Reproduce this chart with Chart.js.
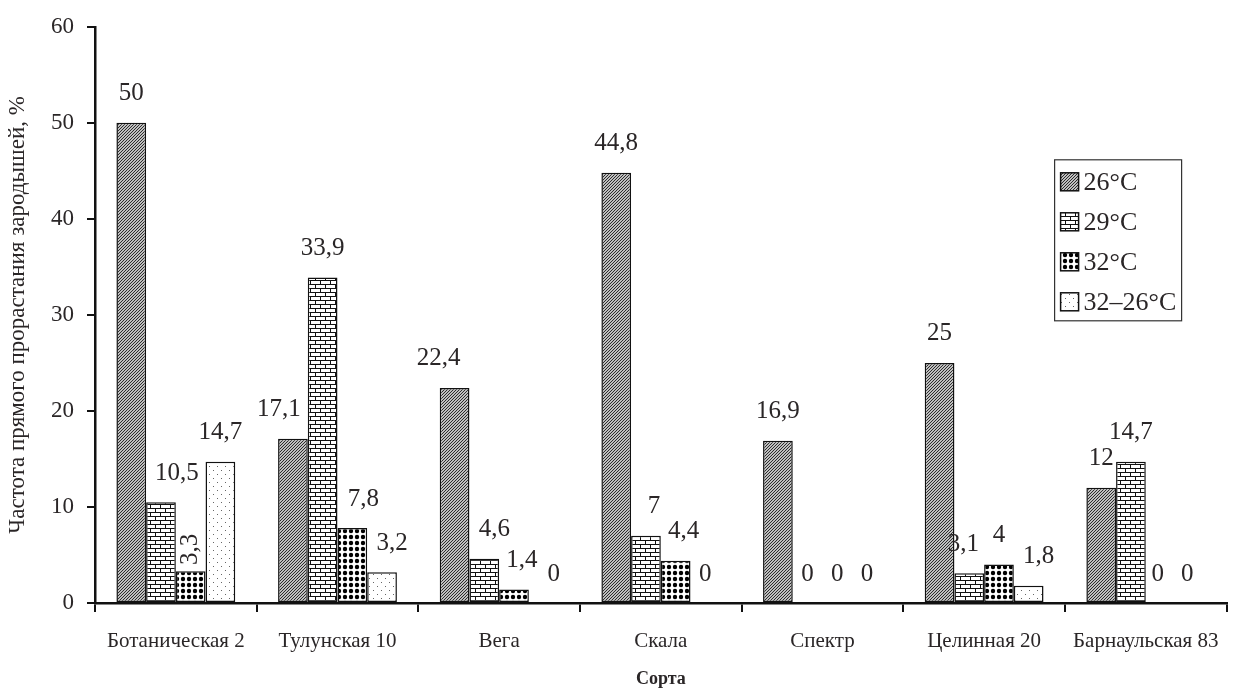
<!DOCTYPE html>
<html>
<head>
<meta charset="utf-8">
<script src="https://cdn.jsdelivr.net/npm/chart.js@4.4.0/dist/chart.umd.min.js"></script>
<style>
  body { margin: 0; background: #fff; }
  #wrap { width: 1236px; height: 693px; }
</style>
</head>
<body>
<div id="wrap"><canvas id="chart" width="1236" height="693"></canvas></div>
<script>
const categories = ["Ботаническая 2", "Тулунская 10", "Вега", "Скала", "Спектр", "Целинная 20", "Барнаульская 83"]
const seriesNames = ["26°C", "29°C", "32°C", "32–26°C"]
const t26 = [50, 17.1, 22.4, 44.8, 16.9, 25, 12]
const t29 = [10.5, 33.9, 4.6, 7, 0, 3.1, 14.7]
const t32 = [3.3, 7.8, 1.4, 4.4, 0, 4, 0]
const t32to26 = [14.7, 3.2, 0, 0, 0, 1.8, 0]
const yTicks = [0, 10, 20, 30, 40, 50, 60]

// small manual nudges of the value labels, as in the original figure
const labelShift = {
    "0-1": -14, "0-2": -16,
    "1-0": 16, "1-2": 10, "1-3": 8, "1-5": -6,
    "2-1": 11, "2-2": 8, "2-3": 8,
    "3-1": 10, "3-2": 10, "3-5": 10, "3-6": -3, "2-6": -3
}
const rotatedLabels = ["2-0"]

const FONT = "'Liberation Serif', 'Times New Roman', serif"
const INK = "#2a2627"

const makePattern = (w, h, draw) => {
    const c = document.createElement('canvas')
    c.width = w
    c.height = h
    const g = c.getContext('2d')
    g.fillStyle = '#fff'
    g.fillRect(0, 0, w, h)
    draw(g)
    return document.getElementById('chart').getContext('2d').createPattern(c, 'repeat')
}

const diagPattern = makePattern(3, 3, g => {
    g.strokeStyle = '#222'
    g.lineWidth = 1.1
    g.beginPath()
    g.moveTo(-1, 4); g.lineTo(4, -1)
    g.moveTo(-1, 1); g.lineTo(1, -1)
    g.moveTo(2, 4); g.lineTo(4, 2)
    g.stroke()
})

const brickPattern = makePattern(10, 8, g => {
    g.fillStyle = '#111'
    g.fillRect(0, 0, 10, 1)
    g.fillRect(0, 4, 10, 1)
    g.fillRect(0, 0, 1, 4)
    g.fillRect(5, 4, 1, 4)
})

const dotPattern = makePattern(6, 6, g => {
    g.fillStyle = '#000'
    g.beginPath()
    g.arc(3, 3, 2.2, 0, Math.PI * 2)
    g.fill()
})

const sparsePattern = makePattern(8, 8, g => {
    g.fillStyle = '#666'
    g.fillRect(1, 2, 1, 1)
    g.fillRect(5, 6, 1, 1)
})

const patterns = [diagPattern, brickPattern, dotPattern, sparsePattern]

const fmt = v => String(v).replace('.', ',')

const valueLabels = {
    id: 'valueLabels',
    afterDatasetsDraw(chart) {
        const ctx = chart.ctx
        ctx.save()
        ctx.fillStyle = INK
        ctx.font = `25px ${FONT}`
        ctx.textAlign = 'center'
        ctx.textBaseline = 'middle'
        chart.data.datasets.forEach((ds, di) => {
            chart.getDatasetMeta(di).data.forEach((bar, i) => {
                const key = di + '-' + i
                const text = fmt(ds.data[i])
                if (rotatedLabels.includes(key)) {
                    ctx.save()
                    ctx.translate(bar.x, bar.y - 22)
                    ctx.rotate(-Math.PI / 2)
                    ctx.fillText(text, 0, 0)
                    ctx.restore()
                } else {
                    ctx.fillText(text, bar.x + (labelShift[key] || 0), bar.y - 29)
                }
            })
        })
        ctx.restore()
    }
}

const boxedLegend = {
    id: 'boxedLegend',
    afterDraw(chart) {
        const ctx = chart.ctx
        const area = chart.chartArea
        const x = area.right - 172
        const y = area.top + 133
        ctx.save()
        ctx.strokeStyle = '#333'
        ctx.lineWidth = 1.2
        ctx.strokeRect(x, y, 127, 161)
        ctx.font = `26px ${FONT}`
        ctx.textBaseline = 'middle'
        chart.data.datasets.forEach((ds, i) => {
            const cy = y + 22 + i * 40
            ctx.fillStyle = ds.backgroundColor
            ctx.fillRect(x + 6, cy - 9, 18, 18)
            ctx.strokeStyle = '#111'
            ctx.lineWidth = 1.5
            ctx.strokeRect(x + 6, cy - 9, 18, 18)
            ctx.fillStyle = INK
            ctx.fillText(ds.label, x + 29, cy + 1)
        })
        ctx.restore()
    }
}

const context = document.getElementById('chart').getContext('2d')
const myChart = new Chart(context, {
    type: "bar",
    data: {
        labels: categories,
        datasets: [t26, t29, t32, t32to26].map((values, i) => ({
            label: seriesNames[i],
            data: values,
            backgroundColor: patterns[i],
            borderColor: "#111",
            borderWidth: 1.5,
            borderSkipped: false,
            categoryPercentage: 0.735,
            barPercentage: 1.0
        }))
    },
    options: {
        responsive: false,
        animation: false,
        layout: {
            padding: { top: 25, right: 7, left: 0, bottom: 0 }
        },
        plugins: {
            legend: { display: false },
            tooltip: { enabled: false }
        },
        scales: {
            x: {
                afterFit: scale => { scale.height = 90 },
                grid: {
                    drawOnChartArea: false,
                    drawTicks: true,
                    tickLength: 9,
                    color: "#111",
                    lineWidth: 2,
                    offset: true
                },
                border: { display: true, color: "#111", width: 2.5 },
                ticks: {
                    color: INK,
                    padding: 17,
                    maxRotation: 0,
                    autoSkip: false,
                    font: { family: FONT, size: 21 }
                },
                title: {
                    display: true,
                    text: "Сорта",
                    color: INK,
                    padding: { top: 0, bottom: 3 },
                    font: { family: FONT, size: 18, weight: "bold" }
                }
            },
            y: {
                min: 0,
                max: 60,
                afterFit: scale => { scale.width = 95 },
                afterBuildTicks: scale => { scale.ticks = yTicks.map(v => ({ value: v })) },
                grid: {
                    drawOnChartArea: false,
                    drawTicks: true,
                    tickLength: 8,
                    color: "#111",
                    lineWidth: 2
                },
                border: { display: true, color: "#111", width: 2.5 },
                ticks: {
                    color: INK,
                    padding: 13,
                    font: { family: FONT, size: 23 }
                },
                title: {
                    display: true,
                    text: "Частота прямого прорастания зародышей, %",
                    color: INK,
                    padding: { top: 4, bottom: 0 },
                    font: { family: FONT, size: 23 }
                }
            }
        }
    },
    plugins: [valueLabels, boxedLegend]
})
</script>
</body>
</html>
